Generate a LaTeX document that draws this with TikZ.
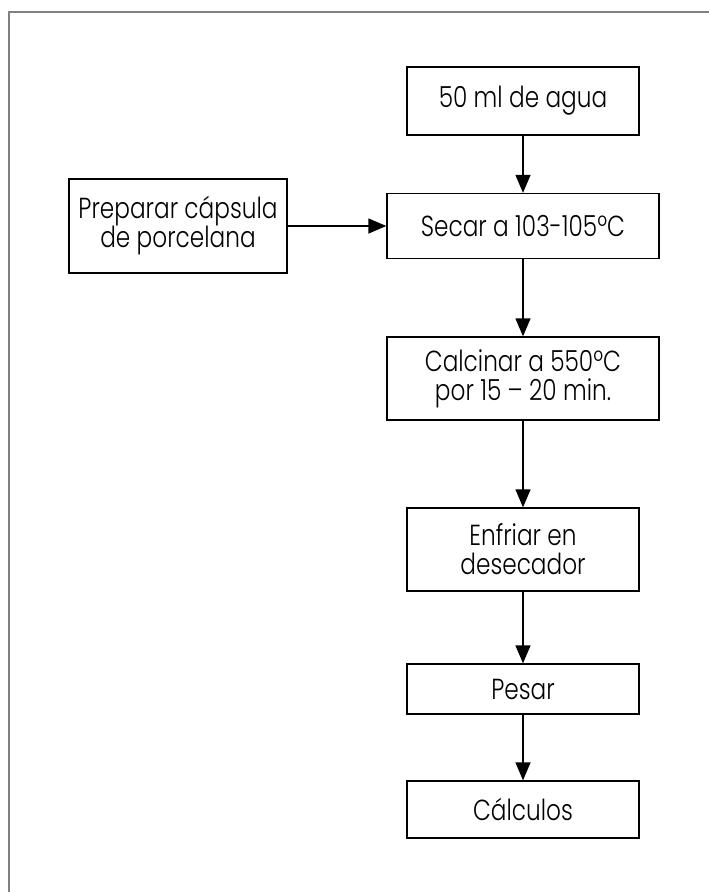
\documentclass[tikz,border=0pt]{standalone}
\usepackage{fontspec}
\setmainfont{Poppins}[FakeStretch=0.8,UprightFont=* Light]
\usetikzlibrary{arrows.meta}
\begin{document}
\begin{tikzpicture}[x=1pt,y=1pt,
  box/.style={draw,line width=1.3pt,align=center,inner sep=0pt,
    font=\fontsize{29}{29}\selectfont}]
\useasboundingbox (0,0) rectangle (709,-892);
\draw[gray,line width=1.2pt] (709,-12) -- (9,-12) -- (9,-892);

\node[box,minimum width=232,minimum height=68] (1) at (523,-101) {50 ml de agua};
\node[box,minimum width=272,minimum height=65] (2) at (523,-226) {Secar a 103-105ºC};
\node[box,minimum width=218,minimum height=94] (3) at (178,-226) {Preparar cápsula\\de porcelana};
\node[box,minimum width=272,minimum height=83] (4) at (523,-378.5) {Calcinar a 550ºC\\por 15 – 20 min.};
\node[box,minimum width=232,minimum height=83] (5) at (523,-549.5) {Enfriar en\\desecador};
\node[box,minimum width=232,minimum height=50] (6) at (523,-689) {Pesar};
\node[box,minimum width=232,minimum height=57] (7) at (523,-809.5) {Cálculos};

\path[draw,line width=1.3pt,-{Triangle[length=18pt,width=15pt]}] (1) -- (2);
\path[draw,line width=1.3pt,-{Triangle[length=18pt,width=15pt]}] (3) -- (2);
\path[draw,line width=1.3pt,-{Triangle[length=18pt,width=15pt]}] (2) -- (4);
\path[draw,line width=1.3pt,-{Triangle[length=18pt,width=15pt]}] (4) -- (5);
\path[draw,line width=1.3pt,-{Triangle[length=18pt,width=15pt]}] (5) -- (6);
\path[draw,line width=1.3pt,-{Triangle[length=18pt,width=15pt]}] (6) -- (7);
\end{tikzpicture}
\end{document}
